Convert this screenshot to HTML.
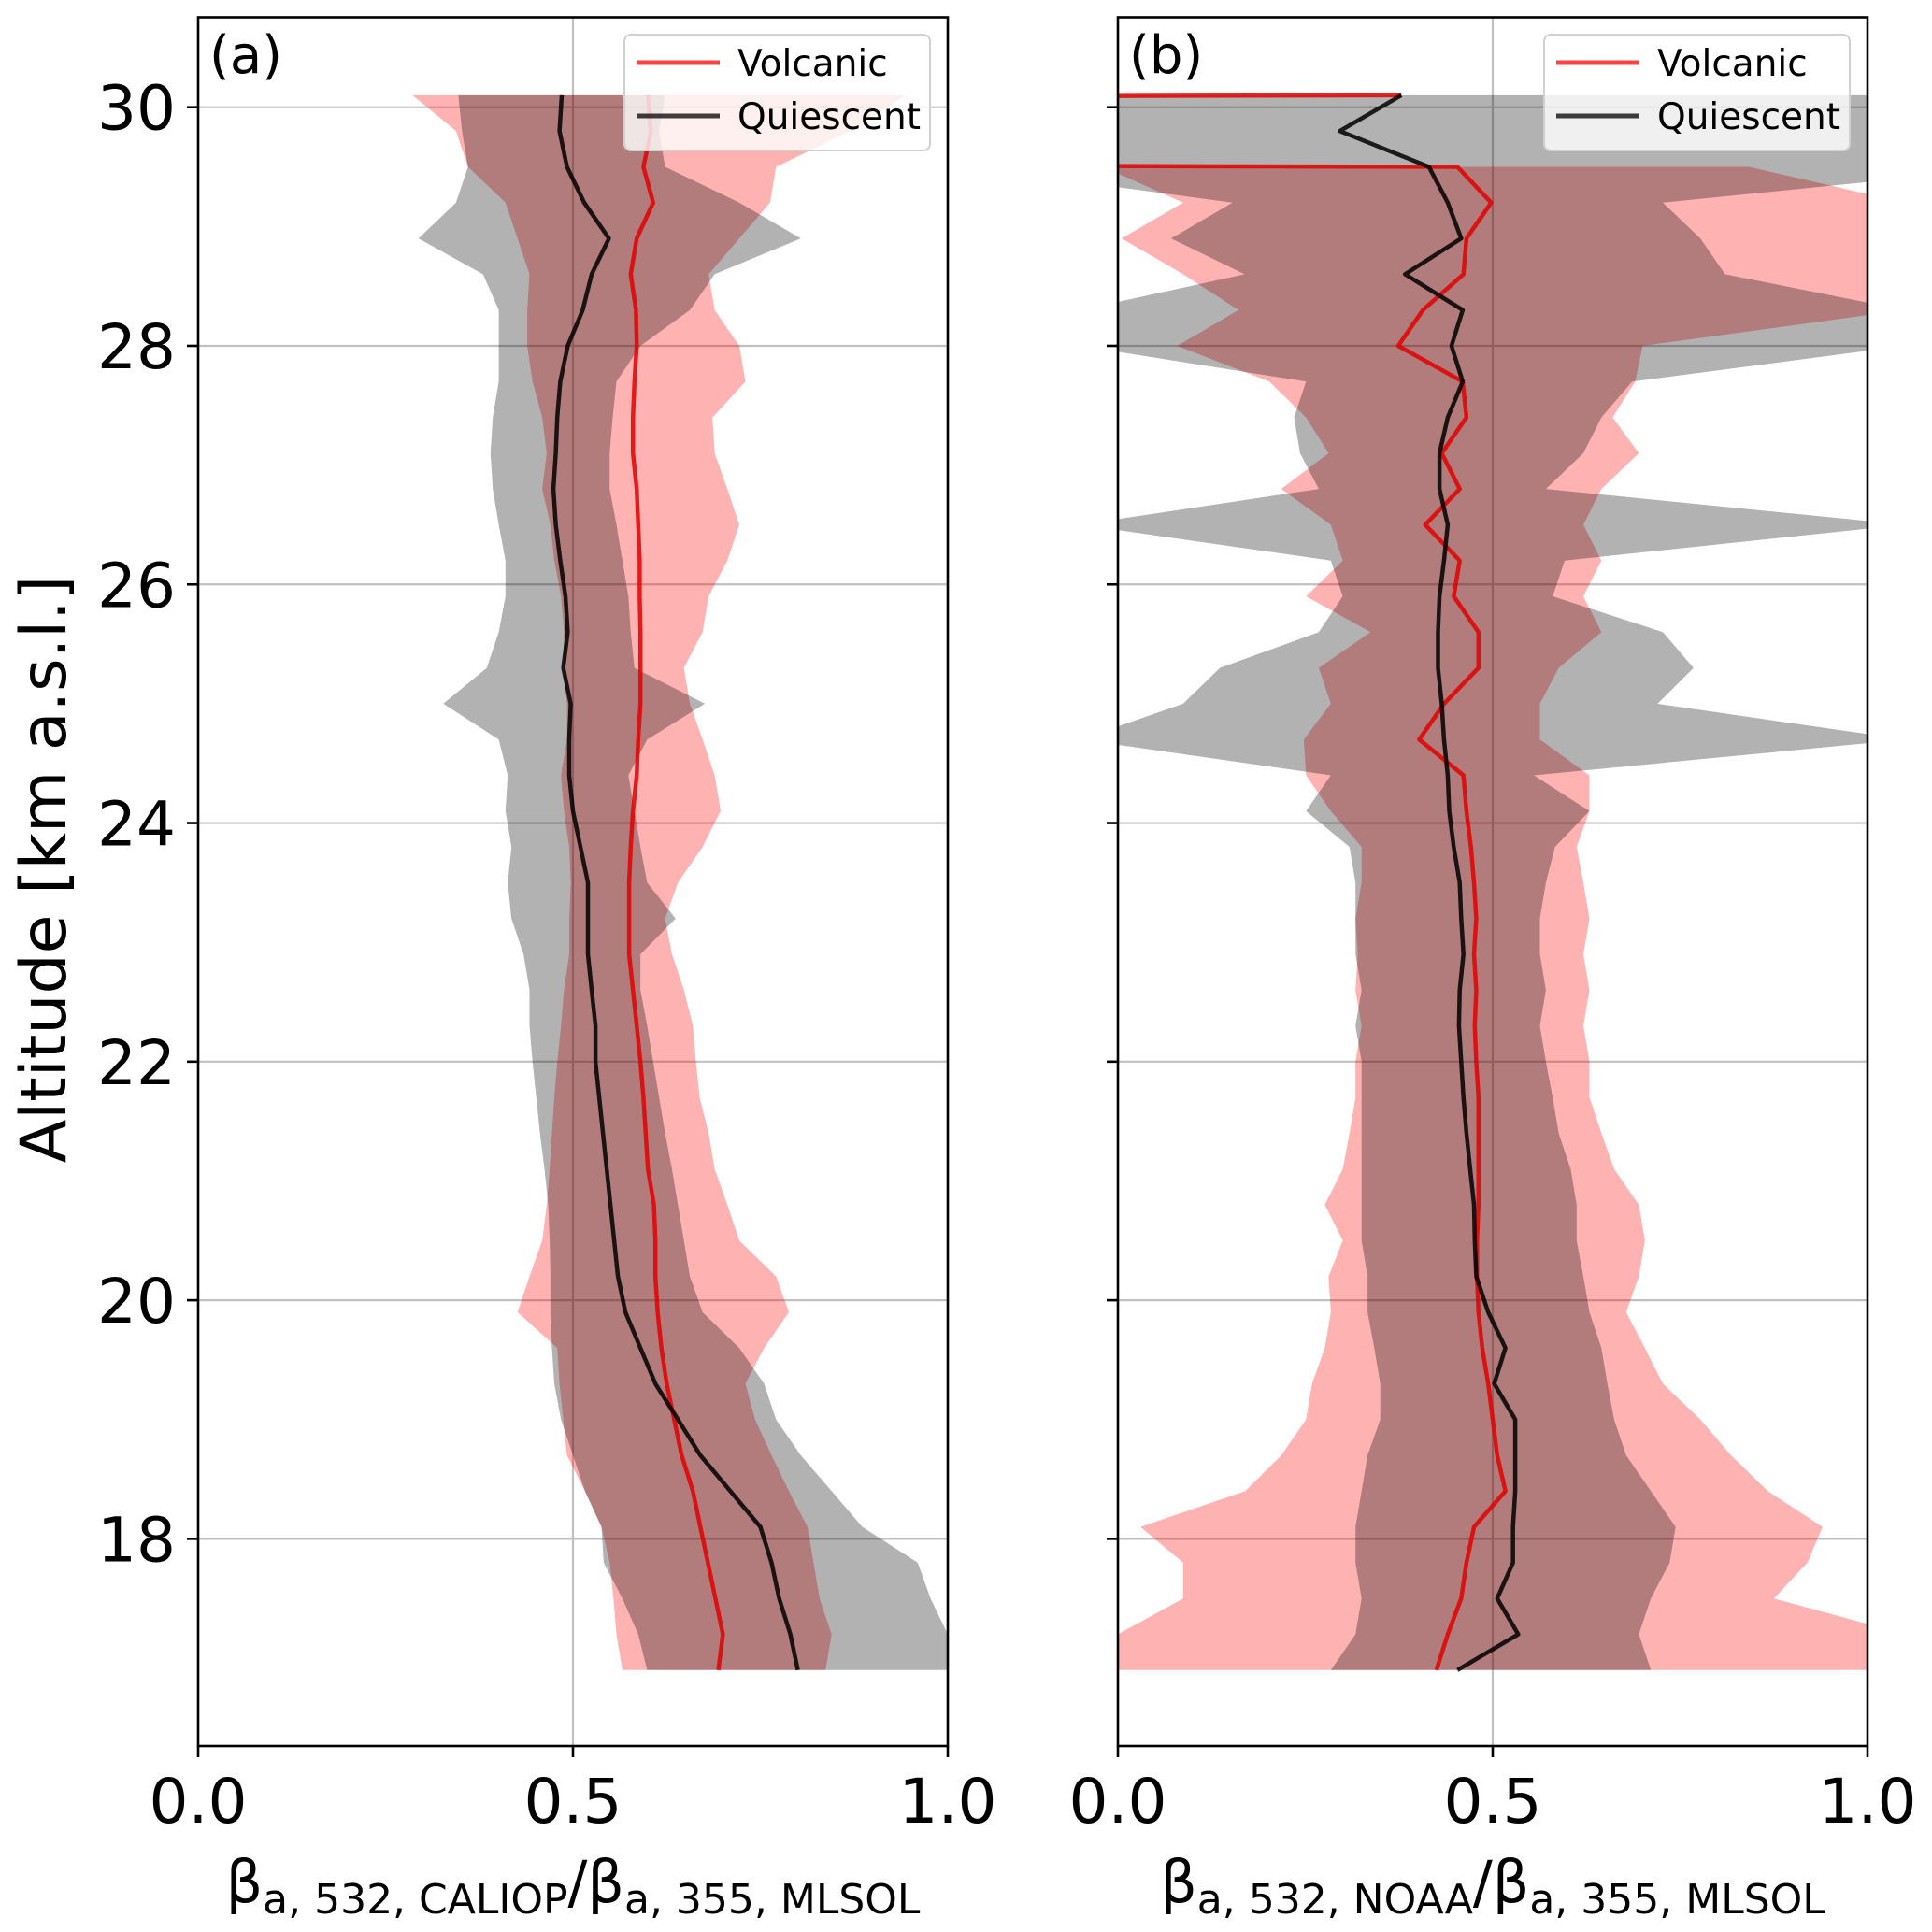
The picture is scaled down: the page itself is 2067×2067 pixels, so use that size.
<!DOCTYPE html>
<html><head><meta charset="utf-8"><style>
html,body{margin:0;padding:0;background:#fff}
svg{display:block}
text{font-family:"DejaVu Sans","Liberation Sans",sans-serif;fill:#000}
</style></head><body>
<svg id="chart" width="2067" height="2067" viewBox="0 0 2067 2067" xmlns="http://www.w3.org/2000/svg">
<defs>
<clipPath id="clipA"><rect x="212" y="18.5" width="802" height="1849.5"/></clipPath>
<clipPath id="clipB"><rect x="1196" y="18.5" width="802" height="1849.5"/></clipPath>
</defs>
<g id="gA"></g>
<g id="gB"></g>
<text transform="translate(70,930) rotate(-90)" text-anchor="middle" font-size="68">Altitude [km a.s.l.]</text>
<text x="613" y="2035" text-anchor="middle" font-size="62">β<tspan font-size="44" dy="12">a, 532, CALIOP</tspan><tspan dy="-12">/β</tspan><tspan font-size="44" dy="12">a, 355, MLSOL</tspan></text>
<text x="1597" y="2035" text-anchor="middle" font-size="62">β<tspan font-size="44" dy="12">a, 532, NOAA</tspan><tspan dy="-12">/β</tspan><tspan font-size="44" dy="12">a, 355, MLSOL</tspan></text>
</svg>
<script>
const altitudes = [16.9,17.2,17.5,17.8,18.1,18.4,18.7,19.0,19.3,19.6,19.9,20.2,20.5,20.8,21.1,21.4,21.7,22.0,22.3,22.6,22.9,23.2,23.5,23.8,24.1,24.4,24.7,25.0,25.3,25.6,25.9,26.2,26.5,26.8,27.1,27.4,27.7,28.0,28.3,28.6,28.9,29.2,29.5,29.8,30.1];
const xTicks = [0.0,0.5,1.0];
const xTickLabels = ["0.0","0.5","1.0"];
const yTicks = [18,20,22,24,26,28,30];
const yTickLabels = ["18","20","22","24","26","28","30"];

// Panel (a)
const aVolcMean = [0.694,0.70,0.69,0.68,0.67,0.66,0.645,0.635,0.625,0.618,0.613,0.61,0.61,0.608,0.60,0.597,0.594,0.59,0.585,0.58,0.575,0.575,0.575,0.577,0.58,0.585,0.587,0.59,0.59,0.59,0.589,0.589,0.587,0.585,0.58,0.58,0.582,0.585,0.584,0.577,0.585,0.607,0.594,0.604,0.60];
const aVolcLow = [0.566,0.558,0.554,0.549,0.538,0.516,0.492,0.487,0.482,0.479,0.426,0.442,0.459,0.465,0.469,0.472,0.475,0.479,0.484,0.488,0.495,0.495,0.497,0.495,0.488,0.484,0.492,0.492,0.487,0.488,0.484,0.475,0.47,0.459,0.465,0.459,0.446,0.439,0.439,0.442,0.426,0.41,0.36,0.344,0.286];
const aVolcHigh = [0.837,0.845,0.829,0.821,0.813,0.788,0.765,0.743,0.73,0.755,0.788,0.771,0.722,0.706,0.689,0.681,0.669,0.664,0.66,0.648,0.632,0.623,0.64,0.673,0.697,0.689,0.673,0.656,0.648,0.673,0.681,0.706,0.722,0.706,0.689,0.686,0.73,0.722,0.689,0.681,0.722,0.763,0.771,0.87,0.944];
const aQuiMean = [0.80,0.79,0.775,0.765,0.75,0.71,0.67,0.64,0.61,0.59,0.57,0.56,0.555,0.55,0.545,0.54,0.535,0.53,0.53,0.525,0.52,0.52,0.52,0.51,0.50,0.495,0.495,0.497,0.487,0.493,0.49,0.483,0.477,0.474,0.477,0.479,0.483,0.493,0.513,0.525,0.548,0.515,0.492,0.482,0.485];
const aQuiLow = [0.599,0.587,0.566,0.541,0.538,0.516,0.50,0.484,0.475,0.472,0.47,0.47,0.469,0.467,0.462,0.456,0.451,0.446,0.442,0.442,0.434,0.418,0.413,0.418,0.41,0.413,0.401,0.327,0.385,0.401,0.41,0.41,0.401,0.393,0.39,0.393,0.401,0.401,0.401,0.38,0.294,0.344,0.36,0.352,0.347];
const aQuiHigh = [1.0,1.0,0.977,0.96,0.886,0.845,0.804,0.771,0.755,0.722,0.673,0.656,0.648,0.64,0.632,0.623,0.615,0.607,0.599,0.59,0.59,0.637,0.599,0.59,0.582,0.574,0.599,0.676,0.582,0.577,0.574,0.566,0.558,0.549,0.549,0.553,0.558,0.59,0.656,0.689,0.804,0.722,0.623,0.615,0.623];

// Panel (b)
const bVolcMean = [0.425,0.44,0.458,0.465,0.475,0.517,0.506,0.50,0.494,0.486,0.481,0.479,0.479,0.481,0.481,0.481,0.481,0.478,0.476,0.478,0.475,0.478,0.475,0.471,0.465,0.461,0.402,0.435,0.481,0.481,0.448,0.456,0.41,0.456,0.432,0.465,0.46,0.374,0.407,0.461,0.465,0.498,0.453,-20,0.378];
const bVolcLow = [0,0,0.087,0.087,0.03,0.17,0.218,0.251,0.259,0.276,0.284,0.281,0.30,0.276,0.30,0.309,0.317,0.317,0.325,0.317,0.320,0.317,0.325,0.325,0.284,0.251,0.248,0.284,0.268,0.337,0.251,0.30,0.284,0.218,0.281,0.251,0.202,0.079,0.161,0.087,0.005,0.087,-0.02,null,null];
const bVolcHigh = [1.1,1.05,0.875,0.92,0.94,0.867,0.818,0.777,0.727,0.703,0.678,0.695,0.703,0.695,0.662,0.645,0.629,0.629,0.621,0.629,0.621,0.629,0.621,0.612,0.629,0.629,0.563,0.563,0.588,0.645,0.621,0.645,0.621,0.645,0.695,0.66,0.69,0.70,1.05,1.05,1.05,1.05,0.842,null,null];
const bQuiMean = [0.453,0.534,0.506,0.527,0.527,0.53,0.53,0.53,0.502,0.517,0.494,0.478,0.476,0.475,0.47,0.465,0.461,0.458,0.455,0.456,0.461,0.458,0.456,0.448,0.442,0.44,0.435,0.432,0.427,0.427,0.429,0.435,0.44,0.429,0.429,0.44,0.46,0.445,0.46,0.383,0.458,0.44,0.415,0.296,0.378];
const bQuiLow = [0.284,0.317,0.325,0.317,0.317,0.325,0.333,0.35,0.35,0.342,0.333,0.333,0.325,0.325,0.325,0.325,0.325,0.325,0.317,0.325,0.317,0.317,0.317,0.309,0.251,0.284,-0.05,0.087,0.136,0.268,0.30,0.284,-0.05,0.268,0.243,0.235,0.251,-0.05,-0.05,0.169,0.071,0.153,-0.2,-0.3,-0.2];
const bQuiHigh = [0.711,0.695,0.711,0.736,0.744,0.711,0.678,0.662,0.653,0.645,0.629,0.621,0.612,0.612,0.604,0.588,0.580,0.571,0.563,0.571,0.563,0.563,0.571,0.583,0.629,0.555,1.05,0.72,0.768,0.727,0.580,0.596,1.05,0.571,0.621,0.645,0.686,1.05,1.05,0.81,0.777,0.727,1.2,1.3,1.2];

const NS = "http://www.w3.org/2000/svg";
const yTop = 18.5, yBot = 1868;
function yScale(v){ return 114.7 + (30 - v) * 127.64; }
function makeX(left, right){ return v => left + v * (right - left); }
function el(tag, attrs, parent){
  const e = document.createElementNS(NS, tag);
  for (const k in attrs) e.setAttribute(k, attrs[k]);
  parent.appendChild(e);
  return e;
}
function segments(lo, hi){
  const segs = []; let cur = [];
  for (let i = 0; i < altitudes.length; i++){
    if (lo[i] === null || hi[i] === null){ if (cur.length) segs.push(cur); cur = []; }
    else cur.push(i);
  }
  if (cur.length) segs.push(cur);
  return segs;
}
function band(g, xs, lo, hi, fill, op, name){
  segments(lo, hi).forEach(seg => {
    let d = "";
    seg.forEach((i, k) => { d += (k ? "L" : "M") + xs(lo[i]).toFixed(1) + "," + yScale(altitudes[i]).toFixed(1); });
    seg.slice().reverse().forEach(i => { d += "L" + xs(hi[i]).toFixed(1) + "," + yScale(altitudes[i]).toFixed(1); });
    const p = el("path", {d: d + "Z", fill: fill, "fill-opacity": op}, g);
    
    
  });
}
function line(g, xs, vals, color, name){
  const pts = vals.map((v, i) => xs(v).toFixed(1) + "," + yScale(altitudes[i]).toFixed(1)).join(" ");
  const p = el("polyline", {points: pts, fill: "none", stroke: color, "stroke-width": 4.5, "stroke-linejoin": "round", "stroke-opacity": 0.85}, g);
  
  
}
function panel(gid, left, right, clip, label, d){
  const g = document.getElementById(gid);
  const xs = makeX(left, right);
  xTicks.forEach(t => {
    const l = el("line", {x1: xs(t), x2: xs(t), y1: yTop, y2: yBot, stroke: "#c0c0c0", "stroke-width": 2.2}, g);
    
    
  });
  yTicks.forEach(t => {
    const l = el("line", {x1: left, x2: right, y1: yScale(t), y2: yScale(t), stroke: "#c0c0c0", "stroke-width": 2.2}, g);
    
    
  });
  const c = el("g", {"clip-path": "url(#" + clip + ")"}, g);
  
  
  band(c, xs, d.vl, d.vh, "#ff0000", 0.3, "volcanic-range");
  band(c, xs, d.ql, d.qh, "#000000", 0.3, "quiescent-range");
  line(c, xs, d.vm, "#e00000", "volcanic-mean-line");
  line(c, xs, d.qm, "#000000", "quiescent-mean-line");
  const f = el("rect", {x: left, y: yTop, width: right - left, height: yBot - yTop, fill: "none", stroke: "#000", "stroke-width": 2.6}, g);
  
  
  xTicks.forEach((t, i) => {
    const tk = el("line", {x1: xs(t), x2: xs(t), y1: yBot, y2: yBot + 12, stroke: "#000", "stroke-width": 2.6}, g);
    
    
    const tx = el("text", {x: xs(t), y: 1950, "text-anchor": "middle", "font-size": 66}, g);
    tx.textContent = xTickLabels[i];
    
    
  });
  yTicks.forEach((t, i) => {
    const tk = el("line", {x1: left - 12, x2: left, y1: yScale(t), y2: yScale(t), stroke: "#000", "stroke-width": 2.6}, g);
    
    
    if (d.showY){
      const tx = el("text", {x: left - 24, y: yScale(t) + 24, "text-anchor": "end", "font-size": 66}, g);
      tx.textContent = yTickLabels[i];
      
      
    }
  });
  const pl = el("text", {x: left + 12, y: 78, "font-size": 56}, g);
  pl.textContent = label;
  
  
  const lx = right - 346, lw = 327;
  const lg = el("g", {}, g);
  
  
  el("rect", {x: lx, y: 37, width: lw, height: 124, rx: 7, fill: "#fff", "fill-opacity": 0.8, stroke: "#d0d0d0", "stroke-width": 2}, lg);
  const e1 = el("line", {x1: lx + 13, x2: lx + 102, y1: 67, y2: 67, stroke: "#ff2020", "stroke-opacity": 0.85, "stroke-width": 5}, lg);
  
  
  const t1 = el("text", {x: lx + 121, y: 81, "font-size": 39}, lg);
  t1.textContent = "Volcanic";
  
  
  const e2 = el("line", {x1: lx + 13, x2: lx + 102, y1: 124, y2: 124, stroke: "#000", "stroke-opacity": 0.75, "stroke-width": 5}, lg);
  
  
  const t2 = el("text", {x: lx + 121, y: 138, "font-size": 39}, lg);
  t2.textContent = "Quiescent";
  
  
}
panel("gA", 212, 1014, "clipA", "(a)", {vm: aVolcMean, vl: aVolcLow, vh: aVolcHigh, qm: aQuiMean, ql: aQuiLow, qh: aQuiHigh, showY: true});
panel("gB", 1196, 1998, "clipB", "(b)", {vm: bVolcMean, vl: bVolcLow, vh: bVolcHigh, qm: bQuiMean, ql: bQuiLow, qh: bQuiHigh, showY: false});
</script>
</body></html>
